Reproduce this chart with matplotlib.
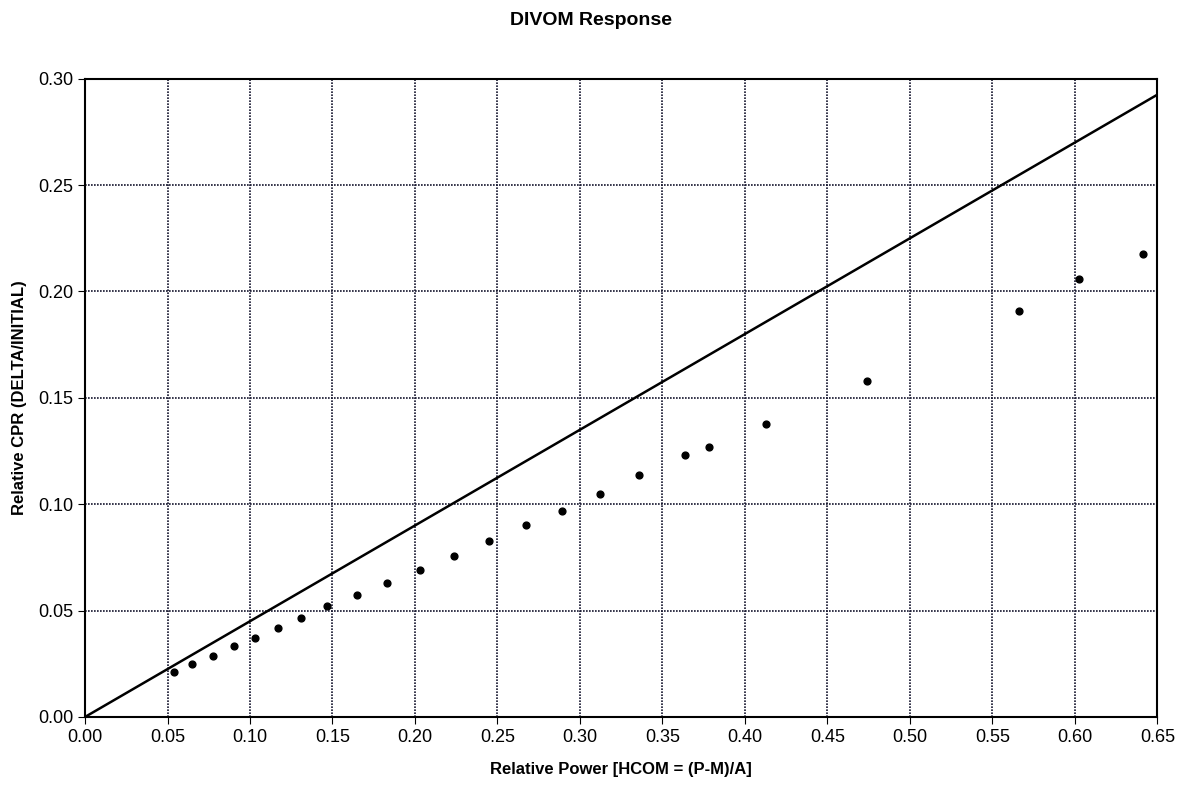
import matplotlib.pyplot as plt
import numpy as np

# measured points (relative power, relative CPR)
power = [0.054, 0.065, 0.0775, 0.090, 0.103, 0.117, 0.131, 0.1466, 0.165, 0.183,
         0.203, 0.2235, 0.2447, 0.267, 0.289, 0.312, 0.3356, 0.3635, 0.378, 0.4125,
         0.474, 0.566, 0.6027, 0.641]
cpr = [0.0212, 0.025, 0.0287, 0.0334, 0.0372, 0.0419, 0.0466, 0.0523, 0.0575, 0.0631,
       0.0692, 0.0758, 0.0829, 0.090, 0.097, 0.105, 0.1135, 0.123, 0.127, 0.1375,
       0.158, 0.1908, 0.2058, 0.2176]

# reference line
line_x = [0.0, 0.65]
line_y = [0.0, 0.2925]

plt.rcParams['font.family'] = ['Liberation Sans', 'DejaVu Sans']

fig = plt.figure(figsize=(11.81, 7.87), dpi=100)
ax = fig.add_axes([0.072, 0.089, 0.908, 0.811])

ax.plot(line_x, line_y, color='black', lw=1.8)
ax.scatter(power, cpr, color='black', s=24, zorder=3)

ax.set_xlim(0, 0.65)
ax.set_ylim(0, 0.30)
ax.set_xticks(np.arange(0, 0.651, 0.05))
ax.set_yticks(np.arange(0, 0.301, 0.05))
ax.xaxis.set_major_formatter(plt.FormatStrFormatter('%.2f'))
ax.yaxis.set_major_formatter(plt.FormatStrFormatter('%.2f'))
ax.tick_params(labelsize=13, direction='out', length=5, color='black')
ax.grid(True, color='#15152e', linestyle=(0, (1, 0.8)), lw=1.2)
for s in ax.spines.values():
    s.set_linewidth(1.5)

ax.set_xlabel('Relative Power [HCOM = (P-M)/A]', fontsize=12, fontweight='bold', labelpad=12)
ax.set_ylabel('Relative CPR (DELTA/INITIAL)', fontsize=12, fontweight='bold', labelpad=8)
fig.suptitle('DIVOM Response', fontsize=14, fontweight='bold', y=0.985)

fig.savefig('out.png', dpi=100)
